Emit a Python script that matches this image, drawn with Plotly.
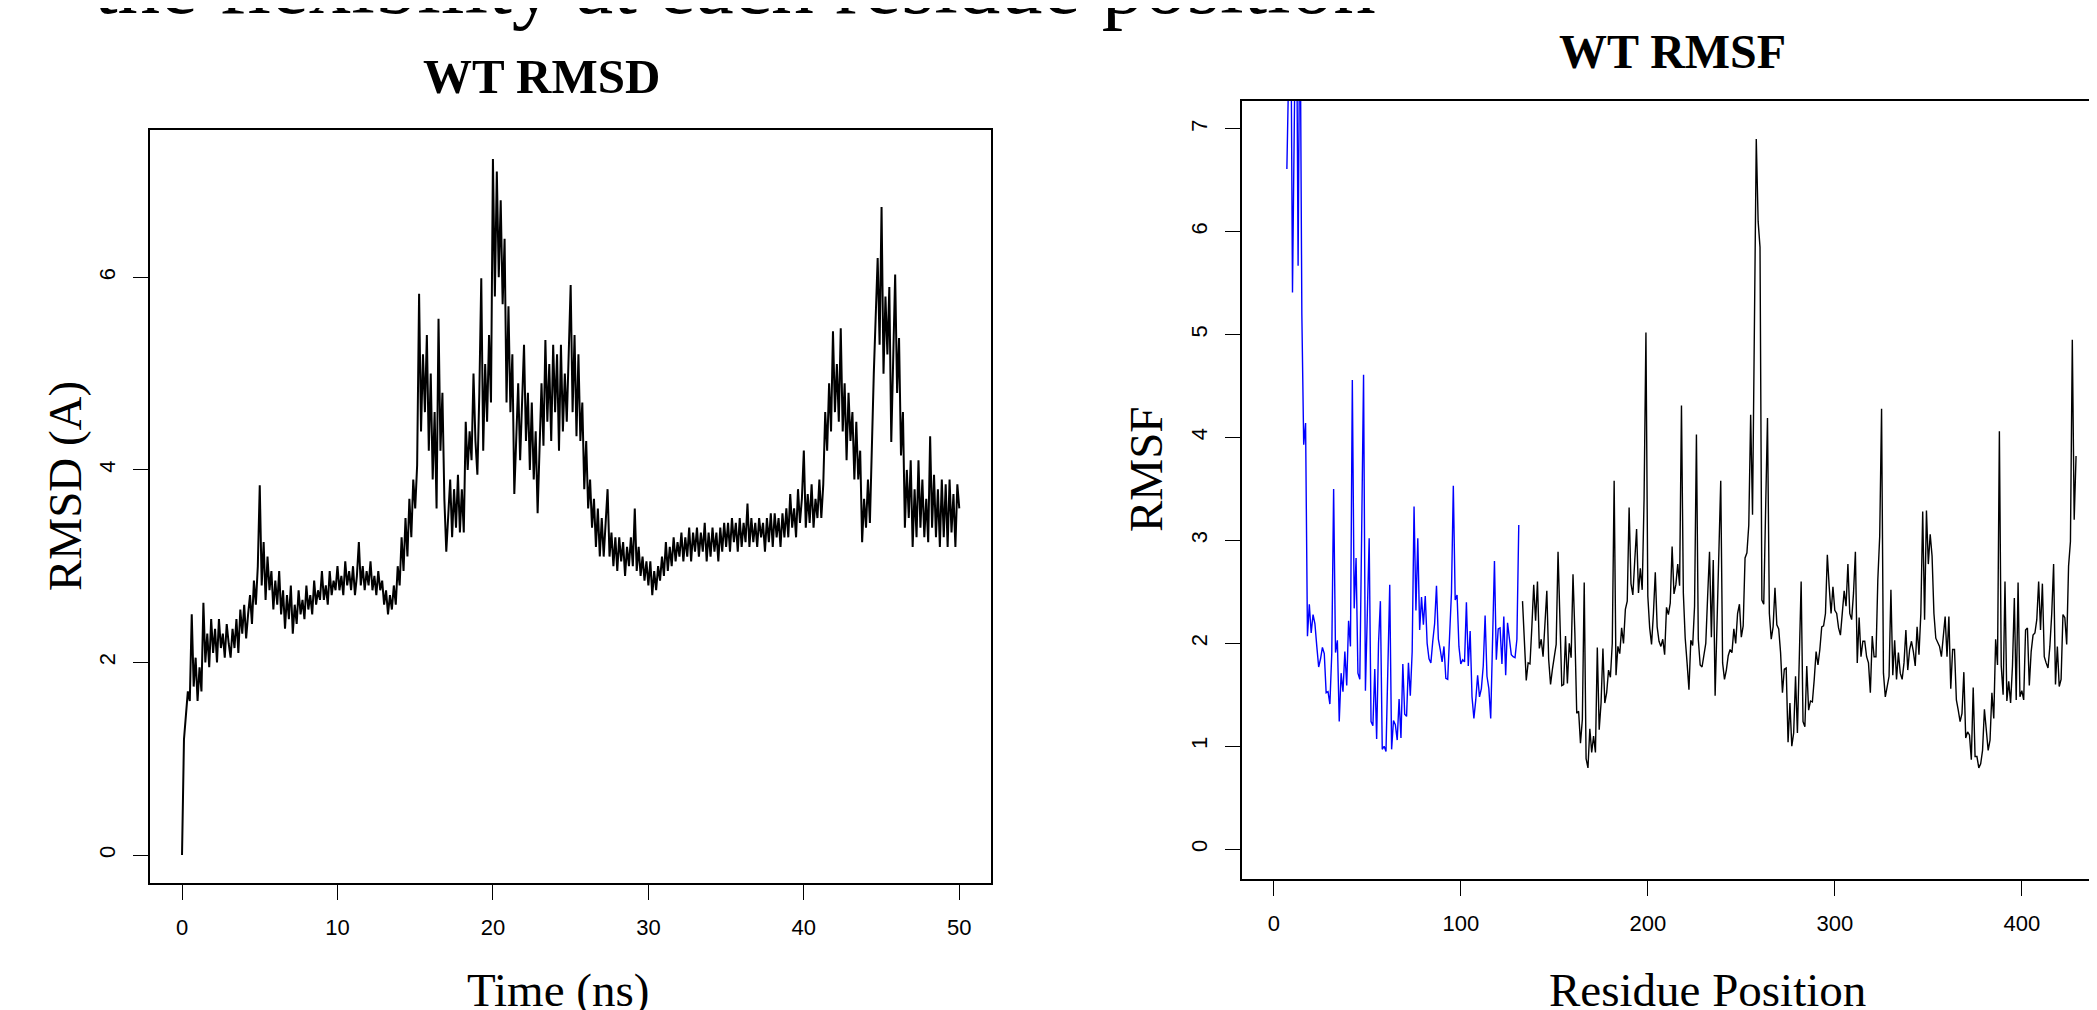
import plotly.graph_objects as go

PAGE_W, PAGE_H = 2097, 1010
OFF = 8  # default body margin of the html page
W, H = PAGE_W - OFF, PAGE_H - OFF

# ---------------- data ----------------
rmsd_step_ns = 0.125
rmsd_value = [
    0.00, 1.20, 1.45, 1.70, 1.60, 2.50, 1.75, 2.05,
    1.60, 1.95, 1.70, 2.62, 2.00, 2.30, 1.95, 2.45,
    2.10, 2.35, 2.00, 2.45, 2.15, 2.30, 2.05, 2.40,
    2.20, 2.05, 2.35, 2.15, 2.45, 2.10, 2.55, 2.30,
    2.60, 2.25, 2.50, 2.70, 2.40, 2.85, 2.60, 3.00,
    3.84, 2.80, 3.25, 2.65, 3.10, 2.75, 2.95, 2.55,
    2.85, 2.60, 2.95, 2.50, 2.75, 2.35, 2.70, 2.45,
    2.80, 2.30, 2.60, 2.40, 2.75, 2.50, 2.65, 2.45,
    2.80, 2.55, 2.70, 2.50, 2.85, 2.60, 2.75, 2.65,
    2.95, 2.65, 2.80, 2.60, 2.95, 2.70, 2.85, 2.75,
    3.00, 2.75, 2.90, 2.70, 3.05, 2.80, 2.95, 2.75,
    3.00, 2.70, 2.90, 3.25, 2.80, 3.00, 2.75, 2.95,
    2.80, 3.05, 2.75, 2.90, 2.70, 2.95, 2.75, 2.85,
    2.60, 2.75, 2.50, 2.70, 2.55, 2.80, 2.60, 3.00,
    2.80, 3.30, 2.95, 3.50, 3.10, 3.70, 3.30, 3.90,
    3.60, 4.05, 5.83, 4.40, 5.20, 4.60, 5.40, 4.20,
    5.00, 3.90, 4.60, 3.60, 5.57, 4.20, 4.80, 3.70,
    3.15, 3.60, 3.90, 3.30, 3.80, 3.40, 3.95, 3.35,
    3.80, 3.35, 4.50, 4.00, 4.40, 4.10, 5.00, 4.30,
    3.95, 4.80, 5.99, 4.20, 5.10, 4.50, 5.40, 4.70,
    7.23, 5.80, 7.10, 6.00, 6.80, 5.72, 6.40, 4.70,
    5.70, 4.60, 5.20, 3.75, 4.40, 4.90, 4.10, 4.70,
    5.30, 4.30, 4.80, 4.00, 4.70, 3.90, 4.40, 3.55,
    4.20, 4.90, 4.25, 5.35, 4.50, 5.10, 4.30, 5.30,
    4.60, 5.20, 4.20, 5.30, 4.40, 5.00, 4.50, 5.30,
    5.92, 4.60, 5.40, 4.35, 5.20, 4.30, 4.70, 3.80,
    4.30, 3.60, 3.90, 3.40, 3.70, 3.20, 3.60, 3.10,
    3.50, 3.10, 3.40, 3.80, 3.10, 3.35, 3.00, 3.30,
    2.95, 3.30, 3.05, 3.25, 2.90, 3.20, 3.00, 3.30,
    3.00, 3.60, 2.95, 3.20, 2.90, 3.10, 2.85, 3.05,
    2.80, 3.05, 2.70, 2.95, 2.75, 3.00, 2.85, 3.10,
    2.90, 3.25, 2.95, 3.20, 3.00, 3.30, 3.05, 3.25,
    3.10, 3.35, 3.05, 3.30, 3.10, 3.40, 3.05, 3.35,
    3.15, 3.40, 3.10, 3.35, 3.15, 3.45, 3.05, 3.35,
    3.10, 3.40, 3.15, 3.35, 3.05, 3.40, 3.15, 3.45,
    3.20, 3.45, 3.15, 3.50, 3.25, 3.45, 3.15, 3.50,
    3.20, 3.45, 3.25, 3.65, 3.20, 3.50, 3.25, 3.45,
    3.20, 3.50, 3.30, 3.45, 3.15, 3.50, 3.25, 3.55,
    3.20, 3.55, 3.30, 3.50, 3.20, 3.55, 3.30, 3.60,
    3.30, 3.75, 3.40, 3.60, 3.30, 3.80, 3.45, 3.70,
    4.20, 3.40, 3.75, 3.45, 3.85, 3.40, 3.70, 3.50,
    3.90, 3.50, 3.85, 4.60, 4.20, 4.90, 4.40, 5.44,
    4.60, 5.10, 4.50, 5.47, 4.40, 4.90, 4.10, 4.80,
    4.30, 4.60, 3.90, 4.50, 3.90, 4.20, 3.25, 3.70,
    3.40, 3.90, 3.45, 4.40, 5.00, 5.60, 6.20, 5.30,
    6.73, 5.00, 5.80, 5.20, 5.90, 4.29, 5.30, 6.03,
    4.80, 5.37, 4.15, 4.60, 3.40, 4.00, 3.50, 4.10,
    3.20, 3.80, 3.30, 4.10, 3.40, 3.90, 3.30, 3.70,
    3.25, 4.35, 3.40, 3.95, 3.30, 3.80, 3.20, 3.90,
    3.30, 3.85, 3.20, 3.90, 3.35, 3.75, 3.20, 3.85,
    3.60,
]
rmsd_time = [i * rmsd_step_ns for i in range(len(rmsd_value))]

rmsf_blue_start = 7
rmsf_blue = [
    6.61, 8.2, 8.6, 5.41, 8.4, 8.8, 5.67, 8.5, 5.2, 3.93,
    4.14, 2.07, 2.38, 2.10, 2.28, 2.19, 1.97, 1.77, 1.85, 1.96,
    1.90, 1.52, 1.53, 1.41, 1.90, 3.50, 1.91, 2.03, 1.24, 1.71,
    1.53, 1.92, 1.59, 2.22, 1.97, 4.56, 2.34, 2.83, 1.71, 1.65,
    3.10, 4.61, 1.54, 2.29, 3.02, 1.24, 1.20, 1.75, 1.07, 2.00,
    2.41, 0.97, 1.00, 0.95, 1.70, 2.57, 0.97, 1.25, 1.21, 1.06,
    1.46, 1.08, 1.80, 1.31, 1.29, 1.81, 1.49, 1.92, 3.33, 2.32,
    3.02, 2.13, 2.45, 2.18, 2.46, 2.00, 1.85, 1.81, 2.02, 2.19,
    2.56, 2.04,
    1.94, 1.82, 1.97, 1.66, 1.65, 2.10, 2.49, 3.53, 2.42, 2.47,
    1.97, 1.80, 1.84, 1.82, 2.40, 1.78, 2.12, 1.48, 1.27, 1.45,
    1.69, 1.48, 1.56, 1.78, 2.27, 1.68, 1.56, 1.27, 2.10, 2.80,
    1.84, 2.14, 2.15, 1.80, 2.26, 1.69, 2.20, 2.05, 1.89, 1.87,
    1.86, 2.04, 3.15,
]
rmsf_black_start = 133
rmsf_black = [
    2.41, 1.97, 1.64, 1.81, 1.80, 2.16, 2.57, 2.22, 2.60, 1.95,
    2.04, 1.87, 2.16, 2.51, 1.84, 1.60, 1.75, 1.87, 1.99, 2.89,
    2.20, 1.59, 1.60, 2.07, 1.61, 2.00, 1.86, 2.67, 2.10, 1.32,
    1.34, 1.03, 1.26, 2.59, 0.88, 0.79, 1.17, 0.94, 1.10, 0.94,
    1.96, 1.16, 1.42, 1.95, 1.42, 1.52, 1.74, 1.67, 2.00, 3.58,
    1.69, 1.97, 1.90, 2.15, 2.00, 2.33, 2.41, 3.32, 2.58, 2.47,
    2.80, 3.11, 2.49,
    2.73, 2.52, 3.40, 5.02, 2.46, 2.15, 1.99, 2.29, 2.69, 2.16,
    2.02, 1.97, 2.04, 1.89, 2.35, 2.28, 2.39, 2.94, 2.48, 2.57,
    2.77, 2.56, 4.31, 2.49, 2.05, 1.81, 1.55, 2.03, 1.98, 2.36,
    4.03, 2.04, 1.79, 1.77, 1.87, 2.00, 2.46, 2.89, 2.06, 2.81,
    1.49, 2.26, 2.94, 3.58, 1.81, 1.65, 1.74, 1.88, 1.94, 1.91,
    2.14, 2.00, 2.29, 2.38, 2.06, 2.17, 2.83, 2.88, 3.15, 4.22,
    3.25, 4.90, 6.90, 6.10, 5.85, 2.42, 2.38, 3.30, 4.19, 2.29,
    2.04, 2.16, 2.54, 2.18, 2.14, 1.91, 1.52, 1.75, 1.76, 1.04,
    1.42, 1.00, 1.13, 1.68, 1.13, 1.85, 2.60, 1.24, 1.19, 1.78,
    1.35, 1.44, 1.43, 1.65, 1.92, 1.79, 1.94, 2.16, 2.17, 2.29,
    2.86, 2.55, 2.29, 2.55, 2.32, 2.29,
    2.15, 2.08, 2.29, 2.51, 2.36, 2.77, 2.29, 2.23, 2.49, 2.89,
    1.81, 2.25, 1.87, 2.02, 2.02, 1.87, 1.81, 1.52, 2.07, 1.87,
    1.87, 2.62, 3.04, 4.28, 1.71, 1.48, 1.58, 1.68, 2.52, 1.69,
    2.03, 1.65, 1.91, 1.71, 1.65, 1.81, 2.13, 1.74, 1.94, 2.02,
    1.92, 1.78, 2.16, 1.89, 2.29, 3.28, 2.23, 3.29, 2.77, 3.06,
    2.85, 2.29, 2.05, 2.00, 1.97, 1.87, 2.04, 2.26, 1.87, 2.26,
    1.56, 1.94, 1.94, 1.45, 1.35, 1.24, 1.32, 1.72, 1.08, 1.14,
    1.11, 0.87, 1.57, 0.90, 0.90, 0.79, 0.83, 0.96, 1.36, 1.19,
    0.96, 1.06, 1.52, 1.27, 2.04, 1.79, 4.06, 1.78, 1.50, 2.60,
    1.44, 1.63, 1.42, 1.78, 2.44, 1.45, 2.59, 1.48, 1.54, 1.45,
    2.13, 2.15, 1.59, 1.92, 2.08, 2.10, 2.23, 2.60, 2.13, 2.58,
    1.87, 1.81, 1.76, 1.97, 2.29, 2.77, 1.60, 1.97, 1.58, 1.65,
    2.28, 2.25, 1.99, 2.75, 2.99, 4.95, 3.20, 3.82,
]
rmsf_blue_res = list(range(rmsf_blue_start, rmsf_blue_start + len(rmsf_blue)))
rmsf_black_res = list(range(rmsf_black_start, rmsf_black_start + len(rmsf_black)))

rmsd_xticks = [0, 10, 20, 30, 40, 50]
rmsd_yticks = [0, 2, 4, 6]
rmsf_xticks = [0, 100, 200, 300, 400]
rmsf_yticks = [0, 1, 2, 3, 4, 5, 6, 7]

# ---------------- layout helpers (page pixel -> paper) ----------------
def px_x(px):
    return (px - OFF) / W

def px_y(py):
    return 1 - (py - OFF) / H

SERIF = "Liberation Serif, Times New Roman, serif"
SANS = "Liberation Sans, Arial, Helvetica, sans-serif"

fig = go.Figure()
fig.add_trace(go.Scatter(x=rmsd_time, y=rmsd_value, mode="lines",
                         line=dict(color="black", width=2.0),
                         xaxis="x", yaxis="y", showlegend=False, hoverinfo="skip"))
fig.add_trace(go.Scatter(x=rmsf_blue_res, y=rmsf_blue, mode="lines",
                         line=dict(color="#0000FF", width=1.4),
                         xaxis="x2", yaxis="y2", showlegend=False, hoverinfo="skip"))
fig.add_trace(go.Scatter(x=rmsf_black_res, y=rmsf_black, mode="lines",
                         line=dict(color="black", width=1.4),
                         xaxis="x2", yaxis="y2", showlegend=False, hoverinfo="skip"))

common_axis = dict(showgrid=False, zeroline=False, ticks="outside", ticklen=15,
                   tickwidth=1.4, tickcolor="black", linecolor="black", linewidth=1.5,
                   showline=True, tickfont=dict(family=SANS, size=22, color="black"))

fig.update_layout(
    width=W, height=H,
    margin=dict(l=0, r=0, t=0, b=0),
    paper_bgcolor="white", plot_bgcolor="white",
    xaxis=dict(domain=[px_x(150), px_x(991)], range=[-2.06, 52.04], anchor="y",
               tickvals=rmsd_xticks, mirror=True, ticklabelstandoff=9, **common_axis),
    yaxis=dict(domain=[px_y(883), px_y(130)], range=[-0.29, 7.53], anchor="x",
               tickvals=rmsd_yticks, mirror=True, tickangle=-90, ticklabelstandoff=9,
               **common_axis),
    xaxis2=dict(domain=[px_x(1242), 1.0], range=[-17.0, 440.2], anchor="y2",
                tickvals=rmsf_xticks, mirror=True, ticklabelstandoff=9, **common_axis),
    yaxis2=dict(domain=[px_y(879), px_y(101)], range=[-0.29, 7.27], anchor="x2",
                tickvals=rmsf_yticks, mirror=False, tickangle=-90, ticklabelstandoff=9,
                **common_axis),
)

def label(text, x, y, size, bold=False, angle=0):
    fig.add_annotation(text=f"<b>{text}</b>" if bold else text,
                       x=px_x(x), y=px_y(y), xref="paper", yref="paper",
                       xanchor="center", yanchor="middle", showarrow=False,
                       textangle=angle,
                       font=dict(family=SERIF, size=size, color="black"))

fig.add_annotation(text="the flexibility at each residue position",
                   x=px_x(92), y=px_y(-16), xref="paper", yref="paper",
                   xanchor="left", yanchor="middle", showarrow=False,
                   font=dict(family=SERIF, size=85, color="black"))

label("WT RMSD", 541, 76, 49, bold=True)
label("WT RMSF", 1672, 51, 48, bold=True)
label("Time (ns)", 558, 990, 47)
label("Residue Position", 1707, 990, 47)
label("RMSD (A)", 65, 486, 47, angle=-90)
label("RMSF", 1146, 470, 47, angle=-90)

fig.write_html("out.html")
